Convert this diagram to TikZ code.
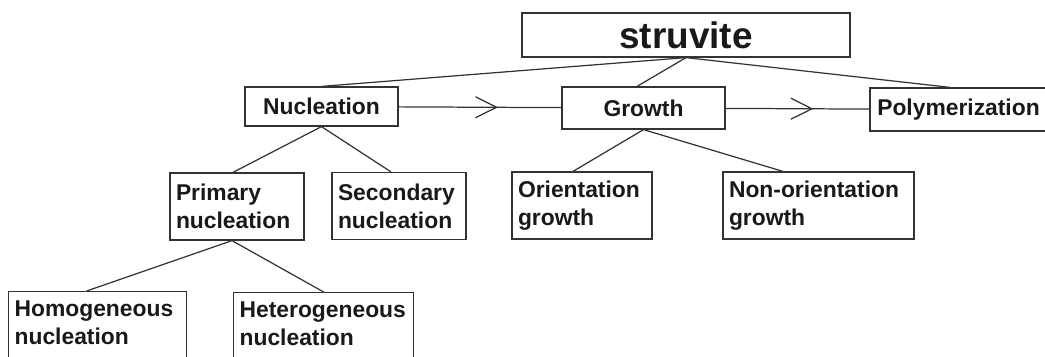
\documentclass[tikz,border=0pt]{standalone}
\usepackage{fontspec}
\setmainfont{Liberation Sans}
\usetikzlibrary{arrows.meta,decorations.markings}

\begin{document}
\begin{tikzpicture}[line width=0.7pt,draw=black!80]
    \tikzstyle{box}=[draw=black!80,font=\fontsize{13}{16}\selectfont\bfseries,text=black!90,inner xsep=0.12cm,inner ysep=0pt]
    \tikzstyle{twoline}=[box,align=left,minimum height=1.34cm]
    \tikzstyle{leaf}=[box,align=left,anchor=north west,inner ysep=0.17cm,text height=0.33cm,text depth=1.0cm]
    \tikzstyle{midarrow}=[postaction={decorate},decoration={markings,mark=at position 0.61 with {\arrow{Straight Barb[length=0.42cm,width=0.42cm,line width=0.7pt]}}}]

    \useasboundingbox (0,0) rectangle (20.9,7.12);

    % top row
    \node[box,minimum width=6.56cm,minimum height=0.88cm,font=\fontsize{21}{24}\selectfont\bfseries] (root) at (13.72,6.42) {struvite};
    \node[box,minimum width=3.06cm,minimum height=0.78cm] (nucl) at (6.43,4.99) {Nucleation};
    \node[box,minimum width=3.26cm,minimum height=0.84cm] (growth) at (12.87,4.96) {Growth};
    \node[box,minimum width=3.54cm,minimum height=0.86cm] (poly) at (19.17,4.93) {Polymerization};

    % second row
    \node[twoline,text width=2.44cm] (prim) at (4.74,2.99) {Primary\\nucleation};
    \node[twoline,text width=2.44cm] (sec) at (7.98,3.00) {Secondary\\nucleation};
    \node[twoline,text width=2.56cm] (orient) at (11.64,3.01) {Orientation\\growth};
    \node[twoline,text width=3.58cm] (nonor) at (16.37,3.01) {Non-orientation\\growth};

    % third row
    \node[leaf,text width=3.32cm] (homo) at (0.16,1.30) {Homogeneous\\nucleation};
    \node[leaf,text width=3.36cm] (hetero) at (4.66,1.28) {Heterogeneous\\nucleation};

    \foreach \from/\to/\dx in {root/nucl/0, root/growth/-0.13, root/poly/-0.17, nucl/prim/-0.08, nucl/sec/-0.16, growth/orient/-0.18, growth/nonor/-0.71}
        \draw (\from.south) -- ([xshift=\dx cm]\to.north);

    \foreach \to/\dx in {homo/-0.22, hetero/0}
        \draw ([xshift=-0.1cm]prim.south) -- ([xshift=\dx cm]\to.north);

    \draw[midarrow] (nucl) -- (growth);
    \draw[midarrow] (growth) -- (poly);
\end{tikzpicture}
\end{document}
